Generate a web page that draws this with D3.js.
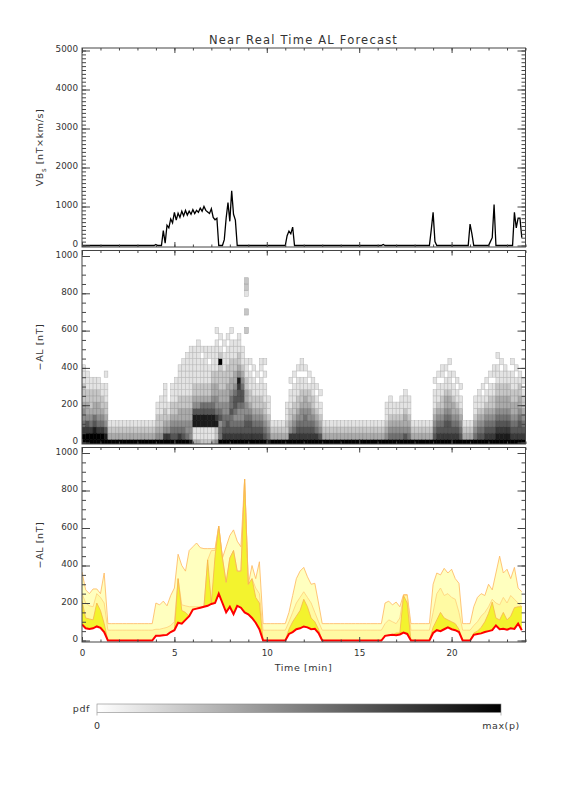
<!DOCTYPE html>
<html>
<head>
<meta charset="utf-8">
<script src="https://cdn.jsdelivr.net/npm/d3@7"></script>
<style>
body{margin:0;background:#fff;}
svg text{font-family:"DejaVu Sans",sans-serif;fill:#333;}
</style>
</head>
<body>
<svg id="chart" width="576" height="792"></svg>
<script>
// time axis (minutes)
var xTicks = [0, 5, 10, 15, 20];
var vbsStep = 0.1;   // VBs sampled every 0.1 min
var alStep = 0.2;    // AL forecast / pdf columns every 0.2 min

// VBs [nT x km/s], t = 0 .. 23.8
var vbs = [
  0,0,0,0,0,0,0,0,0,0,
  0,0,0,0,0,0,0,0,0,0,
  0,0,0,0,0,0,0,0,0,0,
  0,0,0,0,0,0,0,0,0,0,
  25,0,0,0,380,60,520,450,680,580,
  850,650,830,720,880,760,900,780,880,800,
  920,820,900,850,960,880,1000,900,860,820,
  940,720,660,700,0,0,0,150,700,1100,
  620,1400,800,650,0,0,0,0,0,0,
  0,0,0,0,0,0,0,0,0,0,
  0,0,0,0,0,0,0,0,0,0,
  0,250,370,300,470,0,0,0,0,0,
  0,0,0,0,0,0,0,0,0,0,
  0,0,0,0,0,0,0,0,0,0,
  0,0,0,0,0,0,0,0,0,0,
  0,0,0,0,0,0,0,0,0,0,
  0,0,0,25,0,0,0,0,0,0,
  0,0,0,0,0,0,0,0,0,0,
  0,0,0,0,0,0,0,0,0,400,
  850,100,0,0,0,0,0,0,0,0,
  0,0,0,0,0,0,0,0,0,0,
  550,300,0,0,0,0,0,0,0,0,
  0,100,200,1050,0,0,0,0,0,0,
  0,0,0,0,850,450,700,700,200
];

// -AL forecast [nT], t = 0 .. 23.8 every 0.2 min
var alRed = [
  85,65,62,65,75,68,45,0,0,0,
  0,0,0,0,0,0,0,0,0,0,
  25,25,28,30,45,55,95,90,110,130,
  165,170,175,180,185,195,200,250,200,150,
  180,140,185,175,150,140,120,95,60,0,
  0,0,0,0,0,0,35,45,60,65,
  75,70,60,62,40,0,0,0,0,0,
  0,0,0,0,0,0,0,0,0,0,
  0,0,25,28,30,28,32,42,35,0,
  0,0,0,0,0,40,55,50,60,70,
  60,55,45,0,0,0,30,35,38,45,
  50,55,80,60,62,58,65,62,90,55
];
var alQ1 = [
  210,120,115,110,200,160,90,0,0,0,
  0,0,0,0,0,0,0,0,0,0,
  25,25,28,30,45,55,330,160,150,130,
  165,170,175,180,430,200,450,610,440,310,
  440,480,370,370,860,300,330,230,200,0,
  0,0,0,0,0,0,60,100,130,160,
  220,180,120,100,60,0,0,0,0,0,
  0,0,0,0,0,0,0,0,0,0,
  0,0,25,28,30,40,40,240,200,0,
  0,0,0,0,0,70,110,150,120,110,
  100,90,60,0,0,0,40,50,70,100,
  145,205,120,110,150,110,130,175,180,180
];
var alQ2 = [
  250,200,185,180,250,230,200,55,55,55,
  55,55,55,55,55,55,55,55,55,55,
  60,60,65,70,80,100,330,190,185,180,
  180,180,180,180,430,480,480,610,440,310,
  440,480,370,370,860,300,330,280,250,55,
  55,55,55,55,55,55,100,150,200,230,
  260,230,200,150,100,55,55,55,55,55,
  55,55,55,55,55,55,55,55,55,55,
  55,55,90,110,100,90,120,240,240,55,
  55,55,55,55,55,150,250,280,240,250,
  230,220,150,55,55,55,80,100,130,150,
  180,220,200,190,230,200,240,220,200,180
];
var alQ3 = [
  365,270,250,275,275,250,360,90,90,90,
  90,90,90,90,90,90,90,90,90,90,
  200,190,210,185,240,280,460,400,370,480,
  500,520,495,490,490,490,490,610,440,500,
  560,590,530,500,860,300,400,330,420,90,
  90,90,90,90,90,90,150,240,330,370,
  390,340,300,305,200,90,90,90,90,90,
  90,90,90,90,90,90,90,90,90,90,
  90,90,200,210,190,205,180,245,245,90,
  90,90,90,90,90,300,360,350,385,360,
  380,330,305,90,90,90,180,230,250,240,
  300,270,360,450,360,380,330,390,280,260
];

// pdf of -AL: one string per 0.2-min column, one digit (0..9 of max) per 33.3 nT bin from 0 upward
var pdfBin = 1000 / 30;
var pdfCols = [
  "9975443222111","997643322111","99754322211","99865332211","99754332211",
  "9975432211","986432211101","9321","9321","9321",
  "9321","9321","9321","9321","9321",
  "9321","9321","9321","9321","9321",
  "9432211","94322111","9743221111","9743211","9654322111",
  "96543221111","9754332211111","96543322111111","954433221111111","8444332211111111",
  "3118864322111111","31188643221111111","2118865322111101","2118865322111111","2118865322111011",
  "3118865433221111","4228754433221111101","955465433222292101","97655443322211101","976654433322211101",
  "9765565543322211101","97654566543322111","976544566784322111","9765445665432111","9766544332211100002002001220",
  "97665432211101","9765432211101","976543221101","97654322111011","96543221110101",
  "85432111","9321","9321","9321","9321",
  "9322111","97432211101","975432211101","9765432211101","97654432211011",
  "9765543321101","976544322101","97654322111","9754321101","964321101",
  "9321","9321","9321","9321","9321",
  "9321","9321","9321","9321","9321",
  "9321","9321","9321","9321","9321",
  "9321","9321","9432111","95432111","9543211",
  "9543211","95432111","964332111","95432111","9321",
  "9321","9321","9321","9321","9321",
  "96543211101","976543211101","9765432211011","9766543321101","97665433211101",
  "976543321101","97654321101","9654321101","9321","9321",
  "9321","95432111","965432111","9654321101","97654321101",
  "976543221101","9765432211011","987654332211101","98765433221101","9876543322111",
  "987654332211","97654332211101","9765433221101","976654332211","97654322101"
];

var svg = d3.select("#chart");
var plotL = 82, plotR = 525.5;
var x = d3.scaleLinear().domain([0, 24]).range([plotL, plotR]);

var frTop = {top: 48, bottom: 247};
var frMid = {top: 250.5, bottom: 444};
var frBot = {top: 447.5, bottom: 642};
var yTop = d3.scaleLinear().domain([0, 5000]).range([245.5, 50.5]);
var yMid = d3.scaleLinear().domain([0, 1000]).range([442.5, 256]);
var yBot = d3.scaleLinear().domain([0, 1000]).range([640.5, 453]);
var grey = d3.scaleLinear().domain([0, 9]).range(["#ffffff", "#000000"]);

function clip(id, fr) {
  svg.append("clipPath").attr("id", id).append("rect")
    .attr("x", plotL).attr("y", fr.top).attr("width", plotR - plotL).attr("height", fr.bottom - fr.top);
}
clip("cTop", frTop); clip("cMid", frMid); clip("cBot", frBot);

function tidy(g) {
  g.select(".domain").remove();
  g.selectAll("line").attr("stroke", "#444");
  g.selectAll("text").attr("font-size", 8.8).attr("font-family", "DejaVu Sans").attr("fill", "#333");
}

// frame + inward ticks on all four sides (IDL style)
function frame(fr, y, yMajor, yMinor, xLabels) {
  var g = svg.append("g");
  var xMinor = d3.range(0, 25, 1);
  g.append("g").attr("transform", "translate(0," + fr.bottom + ")")
    .call(d3.axisBottom(x).tickValues(xMinor).tickSize(-2.5).tickFormat("")).call(tidy);
  g.append("g").attr("transform", "translate(0," + fr.bottom + ")")
    .call(d3.axisBottom(x).tickValues(xTicks).tickSize(-5).tickPadding(8)
      .tickFormat(xLabels ? d3.format("d") : "")).call(tidy);
  g.append("g").attr("transform", "translate(0," + fr.top + ")")
    .call(d3.axisTop(x).tickValues(xMinor).tickSize(-2.5).tickFormat("")).call(tidy);
  g.append("g").attr("transform", "translate(0," + fr.top + ")")
    .call(d3.axisTop(x).tickValues(xTicks).tickSize(-5).tickFormat("")).call(tidy);
  g.append("g").attr("transform", "translate(" + plotL + ",0)")
    .call(d3.axisLeft(y).tickValues(yMinor).tickSize(-4).tickFormat("")).call(tidy);
  var left = g.append("g").attr("transform", "translate(" + plotL + ",0)")
    .call(d3.axisLeft(y).tickValues(yMajor).tickSize(-8).tickPadding(4).tickFormat(d3.format("d"))).call(tidy);
  left.selectAll("text").attr("y", -1.5);
  g.append("g").attr("transform", "translate(" + plotR + ",0)")
    .call(d3.axisRight(y).tickValues(yMinor).tickSize(-4).tickFormat("")).call(tidy);
  g.append("g").attr("transform", "translate(" + plotR + ",0)")
    .call(d3.axisRight(y).tickValues(yMajor).tickSize(-8).tickFormat("")).call(tidy);
  g.append("rect").attr("x", plotL).attr("y", fr.top)
    .attr("width", plotR - plotL).attr("height", fr.bottom - fr.top)
    .attr("fill", "none").attr("stroke", "#444").attr("stroke-width", 1);
}

// ---- top panel: VBs
svg.append("path")
  .datum(vbs)
  .attr("clip-path", "url(#cTop)")
  .attr("fill", "none").attr("stroke", "#000").attr("stroke-width", 1.3)
  .attr("d", d3.line().x(function(d, i) { return x(i * vbsStep); }).y(function(d) { return yTop(d); }));
frame(frTop, yTop, d3.range(0, 5001, 1000), d3.range(0, 5001, 100), false);

// ---- middle panel: pdf cells
var cells = [];
pdfCols.forEach(function(col, i) {
  col.split("").forEach(function(ch, k) {
    var lev = +ch;
    if (lev > 0) cells.push({t: i * alStep, k: k, lev: lev});
  });
});
svg.append("g").attr("clip-path", "url(#cMid)")
  .selectAll("rect").data(cells).enter().append("rect")
  .attr("x", function(d) { return x(d.t); })
  .attr("width", x(alStep) - x(0))
  .attr("y", function(d) { return yMid((d.k + 0.5) * pdfBin); })
  .attr("height", yMid(0) - yMid(pdfBin))
  .attr("fill", function(d) { return grey(d.lev); })
  .attr("stroke", function(d) { return d3.color(grey(d.lev)).darker(0.6); })
  .attr("stroke-width", 0.5);
frame(frMid, yMid, d3.range(0, 1001, 200), d3.range(0, 1001, 50), false);

// ---- bottom panel: forecast bands
var bands = svg.append("g").attr("clip-path", "url(#cBot)");
function band(top, color) {
  bands.append("path").datum(alRed)
    .attr("fill", color)
    .attr("d", d3.area()
      .x(function(d, i) { return x(i * alStep); })
      .y0(function(d) { return yBot(d); })
      .y1(function(d, i) { return yBot(top[i]); }));
}
function edge(vals, color, w) {
  bands.append("path").datum(vals)
    .attr("fill", "none").attr("stroke", color).attr("stroke-width", w)
    .attr("d", d3.line().x(function(d, i) { return x(i * alStep); }).y(function(d) { return yBot(d); }));
}
band(alQ3, "#ffffbf");
band(alQ2, "#fffaa3");
band(alQ1, "#f3f32e");
edge(alQ3, "#ffb65c", 0.8);
edge(alQ2, "#ffcf7a", 0.8);
edge(alQ1, "#f7b44a", 0.8);
edge(alRed, "#ff0000", 2);
frame(frBot, yBot, d3.range(0, 1001, 200), d3.range(0, 1001, 50), true);

// ---- titles
svg.append("text").attr("x", 303.5).attr("y", 44).attr("text-anchor", "middle")
  .attr("font-size", 11.5).attr("letter-spacing", 1.2).text("Near Real Time AL Forecast");

function yTitle(cy, build) {
  var t = svg.append("text").attr("transform", "translate(43," + cy + ") rotate(-90)")
    .attr("text-anchor", "middle").attr("font-size", 9.5).attr("letter-spacing", 0.6);
  build(t);
}
yTitle(147.5, function(t) {
  t.append("tspan").text("VB");
  t.append("tspan").attr("font-size", 7).attr("dy", 2.5).text("s");
  t.append("tspan").attr("dy", -2.5).text(" [nT\u00d7km/s]");
});
yTitle(347, function(t) { t.text("\u2212AL [nT]"); });
yTitle(545, function(t) { t.text("\u2212AL [nT]"); });

svg.append("text").attr("x", 303.5).attr("y", 671).attr("text-anchor", "middle")
  .attr("font-size", 9.5).attr("letter-spacing", 0.6).text("Time [min]");

// ---- colour bar
var bar = {x0: 97, x1: 501, y0: 704, y1: 712.5};
var grad = svg.append("defs").append("linearGradient").attr("id", "pdfGrad");
grad.append("stop").attr("offset", "0%").attr("stop-color", grey(0));
grad.append("stop").attr("offset", "100%").attr("stop-color", grey(9));
svg.append("rect").attr("x", bar.x0).attr("y", bar.y0)
  .attr("width", bar.x1 - bar.x0).attr("height", bar.y1 - bar.y0)
  .attr("fill", "url(#pdfGrad)").attr("stroke", "#888").attr("stroke-width", 0.6);
[bar.x0, bar.x1].forEach(function(bx) {
  svg.append("line").attr("x1", bx).attr("x2", bx).attr("y1", bar.y1).attr("y2", bar.y1 + 3)
    .attr("stroke", "#888").attr("stroke-width", 0.6);
});
svg.append("text").attr("x", 90).attr("y", 712).attr("text-anchor", "end")
  .attr("font-size", 9.5).attr("letter-spacing", 0.6).text("pdf");
svg.append("text").attr("x", bar.x0).attr("y", 729).attr("text-anchor", "middle")
  .attr("font-size", 9.5).text("0");
svg.append("text").attr("x", bar.x1).attr("y", 729).attr("text-anchor", "middle")
  .attr("font-size", 9.5).attr("letter-spacing", 0.6).text("max(p)");
</script>
</body>
</html>
